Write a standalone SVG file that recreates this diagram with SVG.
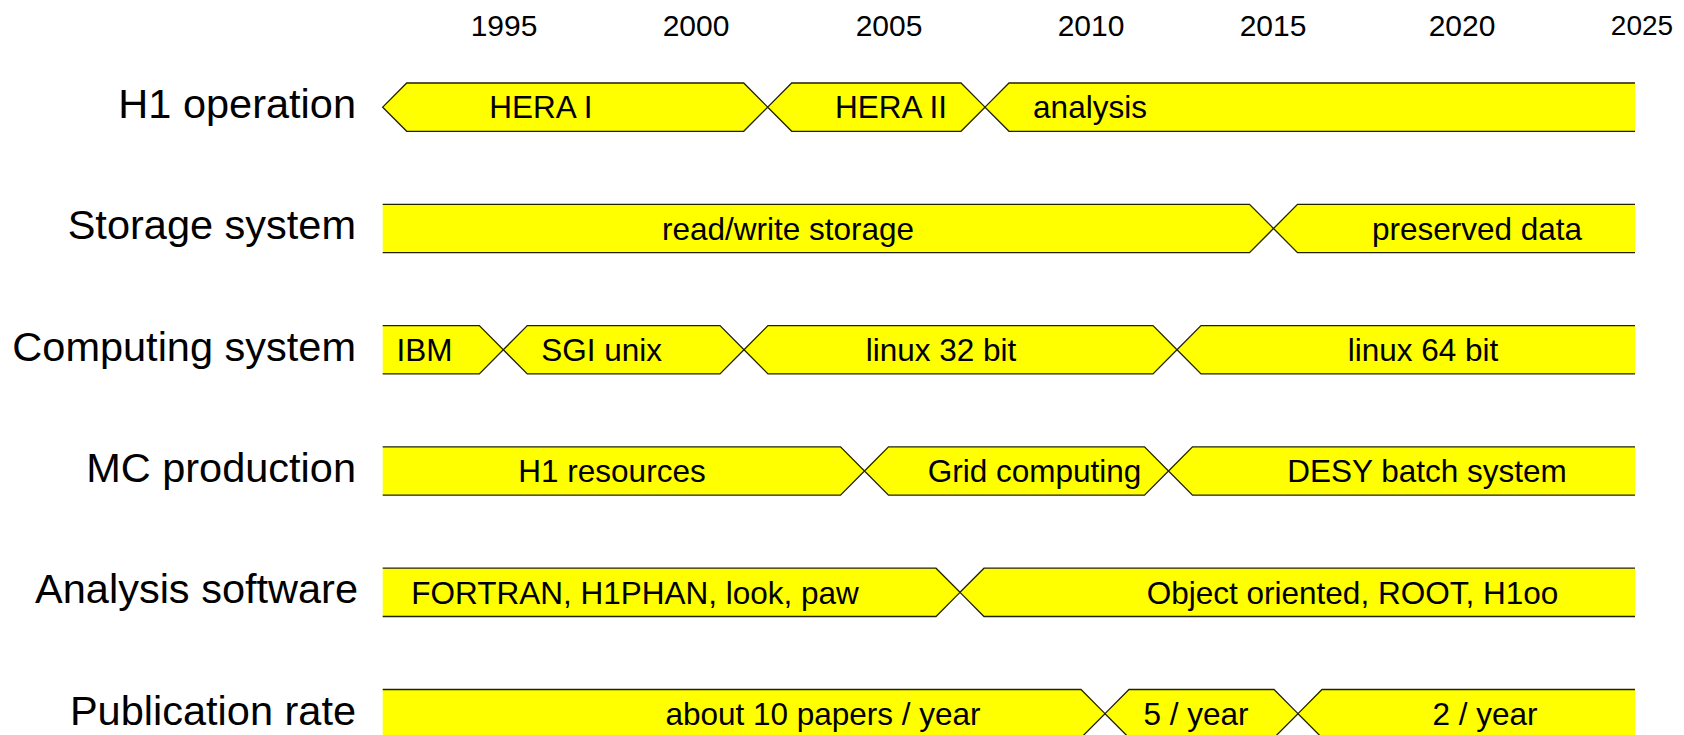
<svg xmlns="http://www.w3.org/2000/svg" width="1684" height="735" viewBox="0 0 1684 735">
<style>
  text { font-family: "Liberation Sans", Arial, sans-serif; fill: #000; }
  .year { font-size: 30px; text-anchor: middle; }
  .row { font-size: 41.5px; text-anchor: end; }
  .lbl { font-size: 31.5px; text-anchor: middle; }
  .bar { fill: #ffff00; stroke: #222200; stroke-width: 1.3; stroke-linejoin: miter; }
</style>
<rect width="1684" height="735" fill="#ffffff"/>
<g id="years">
  <text class="year" x="504" y="35.5">1995</text>
  <text class="year" x="696" y="35.5">2000</text>
  <text class="year" x="889" y="35.5">2005</text>
  <text class="year" x="1091" y="35.5">2010</text>
  <text class="year" x="1273" y="35.5">2015</text>
  <text class="year" x="1462" y="35.5">2020</text>
  <text class="year" x="1642" y="34.5" style="font-size:28px">2025</text>
</g>
<g id="row-labels">
  <text class="row" x="356" y="118">H1 operation</text>
  <text class="row" x="356" y="239.3">Storage system</text>
  <text class="row" x="356" y="360.6">Computing system</text>
  <text class="row" x="356" y="481.9">MC production</text>
  <text class="row" x="358" y="603.2">Analysis software</text>
  <text class="row" x="356" y="724.5">Publication rate</text>
</g>
<g id="connectors"></g>
<!-- Row 0: T=83 C=107.15 B=131.3 -->
<g id="hera1">
  <path class="bar" d="M382.7,107.15 L406.7,83 L743.7,83 L767.7,107.15 L743.7,131.3 L406.7,131.3 Z"/>
  <text class="lbl" x="541" y="118.3">HERA I</text>
</g>
<g id="hera2">
  <path class="bar" d="M767.7,107.15 L791.7,83 L961,83 L985,107.15 L961,131.3 L791.7,131.3 Z"/>
  <text class="lbl" x="891" y="118.3">HERA II</text>
</g>
<g id="analysis">
  <path class="bar" d="M1635,83 L1009,83 L985,107.15 L1009,131.3 L1635,131.3"/>
  <text class="lbl" x="1090" y="118.3">analysis</text>
</g>
<!-- Row 1: T=204.3 C=228.45 B=252.6 -->
<g id="rw-storage">
  <path class="bar" d="M382.7,204.3 L1249.5,204.3 L1273.5,228.45 L1249.5,252.6 L382.7,252.6"/>
  <text class="lbl" x="788" y="239.6">read/write storage</text>
</g>
<g id="preserved">
  <path class="bar" d="M1635,204.3 L1297.5,204.3 L1273.5,228.45 L1297.5,252.6 L1635,252.6"/>
  <text class="lbl" x="1477" y="239.6">preserved data</text>
</g>
<!-- Row 2: T=325.6 C=349.75 B=373.9 -->
<g id="ibm">
  <path class="bar" d="M382.7,325.6 L479.3,325.6 L503.3,349.75 L479.3,373.9 L382.7,373.9"/>
  <text class="lbl" x="424.4" y="360.9">IBM</text>
</g>
<g id="sgi">
  <path class="bar" d="M503.3,349.75 L527.3,325.6 L720,325.6 L744,349.75 L720,373.9 L527.3,373.9 Z"/>
  <text class="lbl" x="601.7" y="360.9">SGI unix</text>
</g>
<g id="linux32">
  <path class="bar" d="M744,349.75 L768,325.6 L1153,325.6 L1177,349.75 L1153,373.9 L768,373.9 Z"/>
  <text class="lbl" x="941" y="360.9">linux 32 bit</text>
</g>
<g id="linux64">
  <path class="bar" d="M1635,325.6 L1201,325.6 L1177,349.75 L1201,373.9 L1635,373.9"/>
  <text class="lbl" x="1423" y="360.9">linux 64 bit</text>
</g>
<!-- Row 3: T=446.9 C=471.05 B=495.2 -->
<g id="h1res">
  <path class="bar" d="M382.7,446.9 L840.5,446.9 L864.5,471.05 L840.5,495.2 L382.7,495.2"/>
  <text class="lbl" x="612" y="482.2">H1 resources</text>
</g>
<g id="grid">
  <path class="bar" d="M864.5,471.05 L888.5,446.9 L1144.5,446.9 L1168.5,471.05 L1144.5,495.2 L888.5,495.2 Z"/>
  <text class="lbl" x="1034.5" y="482.2">Grid computing</text>
</g>
<g id="desy">
  <path class="bar" d="M1635,446.9 L1192.5,446.9 L1168.5,471.05 L1192.5,495.2 L1635,495.2"/>
  <text class="lbl" x="1427" y="482.2">DESY batch system</text>
</g>
<!-- Row 4: T=568.2 C=592.35 B=616.5 -->
<g id="fortran">
  <path class="bar" d="M382.7,568.2 L936,568.2 L960,592.35 L936,616.5 L382.7,616.5"/>
  <text class="lbl" x="635" y="603.5">FORTRAN, H1PHAN, look, paw</text>
</g>
<g id="oo">
  <path class="bar" d="M1635,568.2 L984,568.2 L960,592.35 L984,616.5 L1635,616.5"/>
  <text class="lbl" x="1352.5" y="603.5">Object oriented, ROOT, H1oo</text>
</g>
<!-- Row 5: T=689.5 C=713.65 B=737.8 -->
<g id="pub10">
  <path class="bar" d="M382.7,689.5 L1081,689.5 L1105,713.65 L1081,737.8 L382.7,737.8"/>
  <text class="lbl" x="823" y="724.8">about 10 papers / year</text>
</g>
<g id="pub5">
  <path class="bar" d="M1105,713.65 L1129,689.5 L1274,689.5 L1298,713.65 L1274,737.8 L1129,737.8 Z"/>
  <text class="lbl" x="1196" y="724.8">5 / year</text>
</g>
<g id="pub2">
  <path class="bar" d="M1635,689.5 L1322,689.5 L1298,713.65 L1322,737.8 L1635,737.8"/>
  <text class="lbl" x="1485" y="724.8">2 / year</text>
</g>
</svg>
